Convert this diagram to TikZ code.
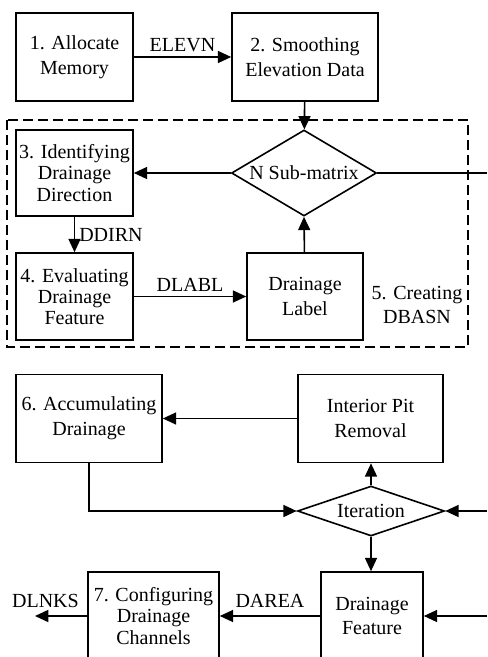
\documentclass[tikz,border=0pt]{standalone}
\usepackage{fontspec}
\setmainfont{Liberation Serif}
\usetikzlibrary{positioning}
\usetikzlibrary{arrows.meta,shapes}
\usetikzlibrary{calc}

\tikzset{
	stage/.style={draw, line width=1.2pt, align=center, inner sep=2pt, minimum height=66pt},
	tight/.style={font=\fontsize{15}{16}\selectfont},
	choice/.style={draw, diamond, line width=1.2pt, inner sep=0pt},
	flow/.style={line width=1.2pt, -{Triangle[length=10pt,width=9pt]}},
	wire/.style={line width=1.2pt},
	tag/.style={inner sep=2pt}
}

\begin{document}
\begin{tikzpicture}[x=0.75pt, y=-0.75pt, font=\fontsize{15}{18.5}\selectfont]

	\useasboundingbox (0,0) rectangle (487,657);
	\clip (0,0) rectangle (487,657);

	% top row
	\node[stage, minimum width=87.75pt] (mem) at (74.5,57) {1. Allocate\\Memory};
	\node[stage, minimum width=109.5pt] (smooth) at (305,57) {2. Smoothing\\Elevation Data};

	% DBASN block
	\node[stage, tight, minimum width=87.75pt, minimum height=64.5pt] (ident) at (74.5,173) {3. Identifying\\Drainage\\Direction};
	\node[choice, aspect=1.69, minimum width=108.75pt, minimum height=64.5pt] (nsub) at (304,173) {N Sub-matrix};
	\node[stage, tight, minimum width=87.75pt, minimum height=65.25pt] (evalf) at (74.5,296.5) {4. Evaluating\\Drainage\\Feature};
	\node[stage, minimum width=87pt, minimum height=65.25pt] (dlabel) at (305,296.5) {Drainage\\Label};
	\node[align=center] (creat) at (417,305) {5. Creating\\DBASN};
	\draw[ wire, dash pattern=on 7.5pt off 3.75pt ] (7,120) rectangle (468,347);

	% lower part
	\node[stage, minimum width=109.5pt] (accum) at (89,418.5) {6. Accumulating\\Drainage};
	\node[stage, minimum width=108.75pt] (pit) at (370.5,418.5) {Interior Pit\\Removal};
	\node[choice, aspect=2.9, minimum width=110.25pt, minimum height=37.5pt] (iter) at (371,511) {Iteration};
	\node[stage, minimum width=76.5pt] (dfeat) at (372,616) {Drainage\\Feature};
	\node[stage, tight, minimum width=98.25pt] (config) at (153.5,616) {7. Configuring\\Drainage\\Channels};

	\foreach \name/\y in {rA/173, rB/511, rC/616} {
		\coordinate (\name) at (487,\y);
	}
	\coordinate (out) at (35,616);

	\draw[ flow ] (mem) -- node[tag, above=1pt] (elevn) {ELEVN} (smooth);
	\draw[ flow ] (smooth) -- (nsub);
	\draw[ wire ] (nsub.east) -- (rA);
	\draw[ flow ] (nsub) -- (ident);
	\draw[ flow ] (ident) -- node[tag, right=1pt] (ddirn) {DDIRN} (evalf);
	\draw[ flow ] (evalf) -- node[tag, above=1pt] (dlabl) {DLABL} (dlabel);
	\draw[ flow ] (dlabel) -- (nsub.south);

	\draw[ flow ] (pit) -- (accum);
	\draw[ flow ] (iter.north) -- (pit.south -| iter.north);
	\draw[ flow ] (accum.south) |- (iter.west);
	\draw[ flow ] (rB) -- (iter.east);
	\draw[ flow ] (iter.south) -- (dfeat.north -| iter.south);
	\draw[ flow ] (rC) -- (dfeat.east);
	\draw[ flow ] (dfeat) -- node[tag, above=4pt] (darea) {DAREA} (config);
	\draw[ flow ] (config) -- node[tag, above=4pt, pos=0.8] (dlnks) {DLNKS} (out);

\end{tikzpicture}
\end{document}
